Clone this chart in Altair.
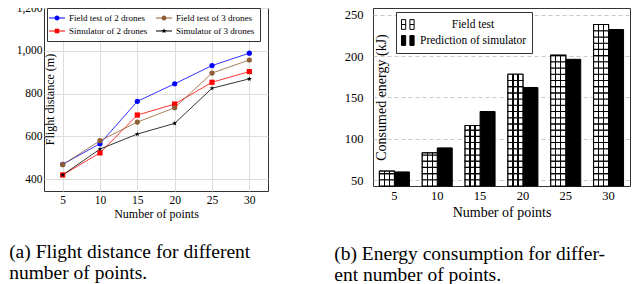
import altair as alt
import pandas as pd

FONT = "Liberation Serif"

# ---------------- data: (a) flight distance ----------------
points = [5, 10, 15, 20, 25, 30]
series_names = [
    "Field test of 2 drones",
    "Simulator of 2 drones",
    "Field test of 3 drones",
    "Simulator of 3 drones",
]
field_2 = [470, 566, 764, 846, 931, 989]
sim_2 = [420, 523, 700, 751, 853, 903]
field_3 = [468, 580, 667, 734, 896, 957]
sim_3 = [420, 541, 611, 661, 825, 869]
series_colors = ["#0000ff", "#ff0000", "#8f5f35", "#000000"]
dist_ticks = [400, 600, 800, 1000, 1200]

# ---------------- data: (b) energy ----------------
energy_labels = ["Field test", "Prediction of simulator"]
energy_field = [61, 83, 116, 178, 201, 238]
energy_sim = [60, 89, 133, 162, 196, 232]
energy_ticks = [50, 100, 150, 200, 250]

caption_a = ["(a) Flight distance for different", "number of points."]
caption_b = ["(b) Energy consumption for differ-", "ent number of points."]

# ---------------- styles ----------------
STAR = ("M0,-1L0.235,-0.324L0.951,-0.309L0.380,0.124L0.588,0.809L0,0.4"
        "L-0.588,0.809L-0.380,0.124L-0.951,-0.309L-0.235,-0.324Z")
marker_shapes = ["circle", "square", "circle", STAR]

LINE_SEG = "M-1.6,-0.09H1.6V0.09H-1.6Z "
CIRC = "M0.5,0A0.5,0.5,0,1,1,-0.5,0A0.5,0.5,0,1,1,0.5,0Z"
SQR = "M-0.45,-0.45H0.45V0.45H-0.45Z"
STAR_S = ("M0,-0.55L0.129,-0.178L0.523,-0.170L0.209,0.068L0.323,0.445L0,0.22"
          "L-0.323,0.445L-0.209,0.068L-0.523,-0.170L-0.129,-0.178Z")
legend_shapes = [LINE_SEG + CIRC, LINE_SEG + SQR, LINE_SEG + CIRC, LINE_SEG + STAR_S]

BAR_SYMBOL = ("M-1,-0.7H-0.4V0.7H-1Z M-1,0H-0.4 "
              "M0.2,-0.7H0.8V0.7H0.2Z M0.2,0H0.8")

Y_MIN_E, Y_MAX_E = 43, 258
HATCH_STEP = 7.5
W_A, H_A = 224, 183
W_B, H_B = 257, 178
GAP = 105

# ---------------- chart (a) ----------------
rows = []
for name, vals in zip(series_names, [field_2, sim_2, field_3, sim_3]):
    for p, v in zip(points, vals):
        rows.append({"pts": p, "dist": v, "series": name})
df_line = pd.DataFrame(rows)

x_scale_a = alt.Scale(domain=[2.5, 32.5], nice=False, zero=False)
y_scale_a = alt.Scale(domain=[345, 1200], nice=False, zero=False)
x_axis_a = alt.Axis(values=points, title="Number of points",
                    labelFontSize=11.5, titleFontSize=12, labelPadding=3,
                    titlePadding=3)
y_axis_a = alt.Axis(values=dist_ticks, labelExpr="format(datum.value, ',')",
                    title="Flight distance (m)",
                    labelFontSize=11.5, titleFontSize=12, labelPadding=2,
                    titleX=9, titleY=91, titleBaseline="alphabetic")

col_scale = alt.Scale(domain=series_names, range=series_colors)

lines = alt.Chart(df_line).mark_line(strokeWidth=0.8).encode(
    x=alt.X("pts:Q", scale=x_scale_a, axis=x_axis_a),
    y=alt.Y("dist:Q", scale=y_scale_a, axis=y_axis_a),
    color=alt.Color("series:N", scale=col_scale, legend=None),
    detail="series:N",
)
marks = alt.Chart(df_line).mark_point(filled=True, size=27, opacity=1).encode(
    x=alt.X("pts:Q", scale=x_scale_a, axis=x_axis_a),
    y=alt.Y("dist:Q", scale=y_scale_a, axis=y_axis_a),
    color=alt.Color("series:N", scale=col_scale, legend=None),
    shape=alt.Shape("series:N", scale=alt.Scale(domain=series_names, range=marker_shapes),
                    legend=None),
)
leg_a = alt.Legend(title=None, orient="none", legendX=3, legendY=0, columns=2,
                   values=series_names,
                   symbolSize=100, symbolStrokeWidth=0, symbolOpacity=1,
                   labelFont=FONT, labelFontSize=9, labelColor="black",
                   labelOffset=7, columnPadding=8, rowPadding=3, padding=5,
                   strokeColor="#333", fillColor="white")
legend_layer = alt.Chart(df_line).transform_filter("false").mark_point(
    filled=True, opacity=1).encode(
    color=alt.Color("series:N", scale=col_scale, legend=leg_a, sort=series_names),
    shape=alt.Shape("series:N", scale=alt.Scale(domain=series_names, range=legend_shapes),
                    legend=leg_a, sort=series_names),
)
chart_a = alt.layer(lines, marks, legend_layer).resolve_scale(
    color="independent", shape="independent"
).properties(
    width=W_A, height=H_A,
    title=alt.TitleParams(text=caption_a, orient="bottom", anchor="start",
                          frame="bounds", dx=-7, offset=23, font=FONT, fontSize=19.5,
                          fontWeight="normal", color="black", lineHeight=21),
)

# ---------------- chart (b) ----------------
brows = []
for p, a, b in zip(points, energy_field, energy_sim):
    brows.append({"pts": p, "energy": a, "series": energy_labels[0]})
    brows.append({"pts": p, "energy": b, "series": energy_labels[1]})
df_bar = pd.DataFrame(brows)

seg_rows = []
for p, v in zip(points, energy_field):
    lo = Y_MIN_E
    while lo < v - 0.01:
        hi = min(lo + HATCH_STEP, v)
        seg_rows.append({"pts": p, "energy": lo, "hi": hi, "series": energy_labels[0]})
        lo = hi
df_seg = pd.DataFrame(seg_rows)

x_scale_b = alt.Scale(paddingInner=0.3, paddingOuter=0.15)
y_scale_b = alt.Scale(domain=[Y_MIN_E, Y_MAX_E], nice=False, zero=False)
off_scale = alt.Scale(domain=energy_labels, paddingInner=0, paddingOuter=0)
x_axis_b = alt.Axis(labelAngle=0, title="Number of points", labelFontSize=12.5,
                    titleFontSize=14, labelPadding=3.5, titlePadding=3)
y_axis_b = alt.Axis(values=energy_ticks, title="Consumed energy (kJ)", labelFontSize=12.5,
                    titleFontSize=14, labelPadding=10, grid=True, gridDash=[4, 3],
                    gridColor="#bbbbbb", gridWidth=0.8,
                    titleX=12, titleY=89, titleBaseline="alphabetic")

leg_b = alt.Legend(title=None, orient="none", legendX=W_A + GAP + 23, legendY=4,
                   symbolType=BAR_SYMBOL, symbolSize=196, symbolStrokeColor="black",
                   symbolStrokeWidth=1, labelFont=FONT, labelFontSize=11.5,
                   labelColor="black", labelAlign="center", labelOffset=57,
                   rowPadding=1, padding=5, strokeColor="#333", fillColor="white")

X_b = alt.X("pts:O", scale=x_scale_b, axis=x_axis_b, sort="ascending")
Y_b = alt.Y("energy:Q", scale=y_scale_b, axis=y_axis_b)

bars = alt.Chart(df_bar).mark_bar(stroke="black", strokeWidth=1).encode(
    x=X_b,
    xOffset=alt.XOffset("series:N", scale=off_scale),
    y=Y_b,
    y2=alt.datum(Y_MIN_E),
    fill=alt.Fill("series:N", scale=alt.Scale(domain=energy_labels, range=["white", "black"]),
                  legend=leg_b),
)

hatch_fill = alt.Gradient(
    gradient="linear", x1=0, y1=0, x2=1, y2=0,
    stops=[
        alt.GradientStop(color="white", offset=0),
        alt.GradientStop(color="white", offset=0.29),
        alt.GradientStop(color="black", offset=0.29),
        alt.GradientStop(color="black", offset=0.38),
        alt.GradientStop(color="white", offset=0.38),
        alt.GradientStop(color="white", offset=0.62),
        alt.GradientStop(color="black", offset=0.62),
        alt.GradientStop(color="black", offset=0.71),
        alt.GradientStop(color="white", offset=0.71),
        alt.GradientStop(color="white", offset=1),
    ],
)
hatch = alt.Chart(df_seg).mark_bar(fill=hatch_fill, stroke="black", strokeWidth=1.1).encode(
    x=X_b,
    xOffset=alt.XOffset("series:N", scale=off_scale),
    y=Y_b,
    y2="hi:Q",
)

chart_b = alt.layer(bars, hatch).properties(
    width=W_B, height=H_B,
    title=alt.TitleParams(text=caption_b, orient="bottom", anchor="start",
                          frame="bounds", dx=-10, offset=26, font=FONT, fontSize=19.5,
                          fontWeight="normal", color="black", lineHeight=21),
)

chart = alt.hconcat(chart_a, chart_b, spacing=GAP, bounds="flush").properties(
    padding={"left": 0, "top": -7, "right": 0, "bottom": 0}
).configure_view(stroke="#333", strokeWidth=1).configure_axis(
    labelFont=FONT, titleFont=FONT, labelColor="black", titleColor="black",
    titleFontWeight="normal", tickSize=0, tickOpacity=0, domainOpacity=0,
)

chart.save("out.html", embed_options={"renderer": "svg", "actions": False})
